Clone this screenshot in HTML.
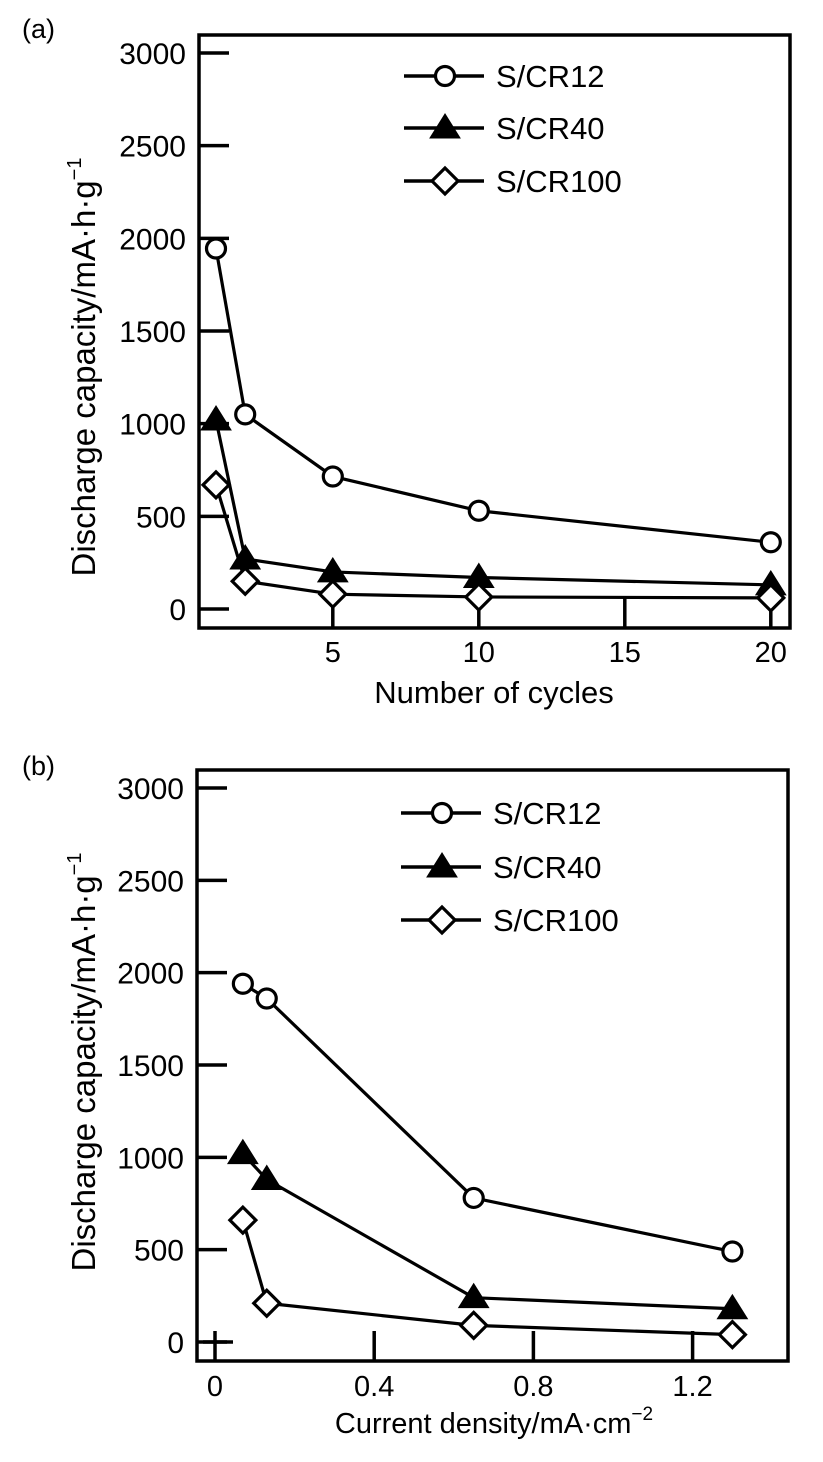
<!DOCTYPE html>
<html><head><meta charset="utf-8"><style>
html,body{margin:0;padding:0;background:#fff;}
svg{display:block;font-family:"Liberation Sans",sans-serif;}
</style></head><body>
<svg id="chart" width="823" height="1462" viewBox="0 0 823 1462"></svg>
<script>
const seriesNames = ["S/CR12","S/CR40","S/CR100"];
const aCycles = [1,2,5,10,20];
const aCR12 = [1945,1050,715,530,360];
const aCR40 = [1020,270,200,170,130];
const aCR100 = [670,150,80,65,60];
const aXTicks = [5,10,15,20];
const aYTicks = [0,500,1000,1500,2000,2500,3000];
const bCurrent = [0.07,0.13,0.65,1.3];
const bCR12 = [1940,1860,780,490];
const bCR40 = [1020,880,240,180];
const bCR100 = [660,210,90,40];
const bXTicks = [0,0.4,0.8,1.2];
const bYTicks = [0,500,1000,1500,2000,2500,3000];

const NS="http://www.w3.org/2000/svg";
const svg=document.getElementById('chart');
function mk(tag,attrs,parent,text){const e=document.createElementNS(NS,tag);for(const k in attrs)e.setAttribute(k,attrs[k]);if(text!==undefined)e.textContent=text;(parent||svg).appendChild(e);return e;}

function marker(g,type,x,y){
  let m;
  if(type===0){m=mk('circle',{cx:x,cy:y,r:9.5,fill:'#fff',stroke:'#000','stroke-width':3.2},g);}
  else if(type===1){m=mk('polygon',{points:`${x},${y-14} ${x-15},${y+10} ${x+15},${y+10}`,fill:'#000',stroke:'#000','stroke-width':1},g);}
  else{m=mk('polygon',{points:`${x},${y-13} ${x+13},${y} ${x},${y+13} ${x-13},${y}`,fill:'#fff',stroke:'#000','stroke-width':3.2},g);}
  return m;
}

function panel(o){
  const g=mk('g',{});
  
  
  const sx=v=>o.x0+(v-o.xv0)*o.xs;
  const sy=v=>o.y0-v*o.ys;
  const fr=mk('rect',{x:o.L,y:o.T,width:o.R-o.L,height:o.B-o.T,fill:'none',stroke:'#000','stroke-width':3.5},g);
  
  o.yt.forEach(v=>{
    const t=mk('line',{x1:o.L,x2:o.L+30,y1:sy(v),y2:sy(v),stroke:'#000','stroke-width':3.5},g);
    
    const l=mk('text',{x:o.L-13,y:sy(v)+11,'font-size':30,'text-anchor':'end'},g,String(v));
    
  });
  o.xt.forEach(v=>{
    const t=mk('line',{x1:sx(v),x2:sx(v),y1:o.B,y2:o.B-30,stroke:'#000','stroke-width':3.5},g);
    
    const l=mk('text',{x:sx(v),y:o.B+o.xlOff,'font-size':29,'text-anchor':'middle'},g,String(v));
    
  });
  if(o.cross){const c=mk('line',{x1:sx(0)-12,x2:sx(0)+18,y1:sy(0),y2:sy(0),stroke:'#000','stroke-width':3.5},g);
    }
  o.series.forEach((s,i)=>{
    const pts=s.map((v,j)=>sx(o.xs_data[j])+','+sy(v)).join(' ');
    const pl=mk('polyline',{points:pts,fill:'none',stroke:'#000','stroke-width':3.2},g);
    
    
  });
  o.series.forEach((s,i)=>{
    s.forEach((v,j)=>{const m=marker(g,i,sx(o.xs_data[j]),sy(v));
      
      });
  });
  seriesNames.forEach((n,i)=>{
    const y=o.legY[i];
    const lg=mk('g',{},g);
    
    mk('line',{x1:o.legX,x2:o.legX+80,y1:y,y2:y,stroke:'#000','stroke-width':3.5},lg);
    marker(lg,i,o.legX+41,y);
    mk('text',{x:o.legX+92,y:y+11,'font-size':31},lg,n);
  });
  const yt=mk('text',{x:0,y:0,'font-size':33,'text-anchor':'middle',transform:`translate(${o.ytX},${o.ytY}) rotate(-90)`},g);
  
  yt.innerHTML='Discharge capacity/mA·h·g<tspan font-size="20" dy="-14">−1</tspan>';
  const xt=mk('text',{x:o.xtX,y:o.xtY,'font-size':o.xtFs,'text-anchor':'middle'},g);
  
  xt.innerHTML=o.xtitle;
  const pl=mk('text',{x:22,y:o.labY,'font-size':27},g,o.label);
  
}

panel({name:'panel-a',L:199,R:790,T:35,B:628,x0:216,xv0:1,xs:29.2,y0:609,ys:556/3000,xlOff:34,
  yt:aYTicks,xt:aXTicks,xs_data:aCycles,series:[aCR12,aCR40,aCR100],
  legX:404,legY:[76,128,181],ytX:95,ytY:367,xtX:494,xtY:703,xtFs:31,xtitle:'Number of cycles',label:'(a)',labY:38});
panel({name:'panel-b',L:197,R:788,T:770,B:1361,x0:215,xv0:0,xs:398,y0:1342,ys:554/3000,cross:true,xlOff:35,
  yt:bYTicks,xt:bXTicks,xs_data:bCurrent,series:[bCR12,bCR40,bCR100],
  legX:401,legY:[813,867,920],ytX:95,ytY:1062,xtX:494,xtY:1433,xtFs:29,xtitle:'Current density/mA·cm<tspan font-size="19" dy="-13">−2</tspan>',label:'(b)',labY:775});
</script>
</body></html>
